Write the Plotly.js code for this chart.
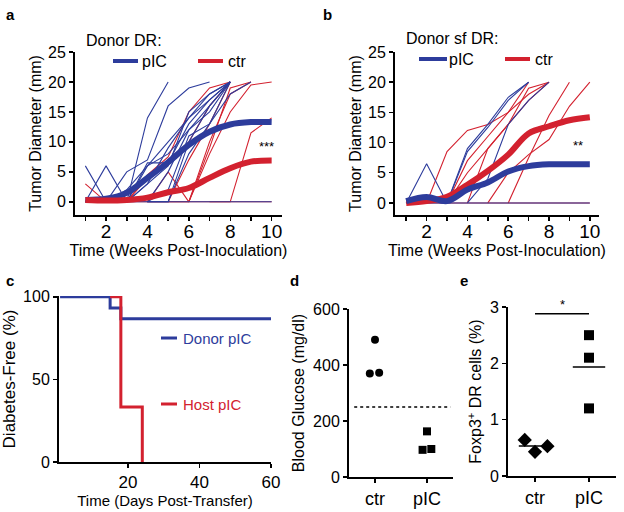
<!DOCTYPE html>
<html>
<head>
<meta charset="utf-8">
<script src="https://cdn.plot.ly/plotly-3.0.1.min.js"></script>
<style>
  html, body { margin: 0; padding: 0; background: #fff; }
  #chart { width: 624px; height: 512px; }
</style>
</head>
<body>
<div id="chart"></div>
<script>
const BLUE = '#2d3c9c', RED = '#d3212f';
const weeks = [1, 2, 3, 4, 5, 6, 7, 8, 9, 10];

// panel a - individual mice: first week measured, then diameters (mm)
const aBlueStart = [1, 1, 3, 2, 2, 3, 3, 4, 4, 4, 1, 4];
const aBlueVals = [
  [6, 0, 0, 3, 9, 14, 18, 20],
  [0, 6, 0, 6.5, 6.5, 13, 17, 20],
  [0, 14, 20],
  [0, 5, 7, 16, 19, 20],
  [0, 2, 6, 10, 14, 17, 20],
  [0, 6, 8, 12, 16, 20],
  [0, 3, 6, 15, 18, 20],
  [0, 0, 10, 16, 20],
  [0, 0, 8, 13, 20],
  [0, 2, 11, 13, 18, 20],
  [0, 0, 0, 0, 0, 0, 0, 0, 0, 0],
  [0, 5, 12, 15, 20]
];
const aRedStart = [1, 4, 4, 5, 6, 7, 1, 3];
const aRedVals = [
  [3, 0, 0, 4.5, 7.5, 15, 19, 20],
  [0, 5, 0, 9, 19, 20],
  [0, 0, 7, 13, 20],
  [0, 0, 8, 15, 19.5, 20],
  [0, 10, 18, 20],
  [0, 0, 11.5, 14],
  [0, 0, 0, 0, 0, 0, 0, 0, 0, 0],
  [0, 4, 7, 10, 16, 20]
];
const aBlueMean = [0.3, 0.5, 1.5, 4, 6.6, 9.5, 11.7, 12.9, 13.3, 13.3];
const aRedMean  = [0.3, 0.2, 0.3, 0.7, 1.6, 2.3, 4, 5.6, 6.7, 6.9];

// panel b
const bBlueStart = [1, 3, 4, 1];
const bBlueVals = [
  [0, 6.5, 0, 9, 13, 17.5, 20],
  [0, 8.5, 12.5, 17, 20],
  [0, 4, 13, 17, 20],
  [0, 0, 0, 0, 0, 0, 0, 0, 0, 0]
];
const bRedStart = [2, 3, 3, 4, 6, 5, 1];
const bRedVals = [
  [0, 8.5, 12, 13, 15, 18, 20],
  [0, 7, 11, 15, 20],
  [0, 5, 9, 13, 17, 20],
  [0, 9, 13, 19, 20],
  [0, 7.5, 14.5, 20],
  [0, 5, 8, 10.5, 16, 20],
  [0, 0, 0, 0, 0, 0, 0, 0, 0, 0]
];
const bBlueMean = [0.3, 1, 0.3, 2.2, 3.4, 5.2, 6.1, 6.4, 6.4, 6.4];
const bRedMean  = [0, 0.3, 1, 3, 5.3, 8, 11.5, 12.7, 13.7, 14.2];

// panel c - survival steps
const cDonorDays = [1, 15, 18, 60];
const cDonorPct  = [100, 93.3, 86.7, 86.7];
const cHostDays  = [15, 18, 24];
const cHostPct   = [100, 33.3, 0];

// panel d - blood glucose (x = group index + jitter)
const dCtrX = [0, -0.1, 0.08],     dCtrY = [490, 370, 372];
const dPicX = [1, 0.915, 1.083],   dPicY = [163, 97, 100];
const dThreshold = 250;

// panel e - Foxp3+ DR cells
const eCtrX = [-0.19, 0, 0.23], eCtrY = [0.64, 0.43, 0.53];
const ePicX = [1, 1, 1],        ePicY = [2.5, 2.1, 1.2];
const eSigY = 2.88;

const catLabels = ['ctr', 'pIC'];

function mouseTraces(starts, vals, color, xa, ya) {
  return vals.map((v, i) => ({
    x: v.map((_, j) => starts[i] + j), y: v,
    type: 'scatter', mode: 'lines', xaxis: xa, yaxis: ya,
    line: { color: color, width: 1.1 }, hoverinfo: 'skip'
  }));
}
function meanTrace(y, color, xa, ya) {
  return { x: weeks, y: y, type: 'scatter', mode: 'lines', xaxis: xa, yaxis: ya,
    line: { color: color, width: 6, shape: 'spline' } };
}
const mean = arr => arr.reduce((s, v) => s + v, 0) / arr.length;

const traces = [].concat(
  mouseTraces(aRedStart, aRedVals, RED, 'x', 'y'),
  mouseTraces(aBlueStart, aBlueVals, BLUE, 'x', 'y'),
  [meanTrace(aBlueMean, BLUE, 'x', 'y'), meanTrace(aRedMean, RED, 'x', 'y')],
  mouseTraces(bRedStart, bRedVals, RED, 'x2', 'y2'),
  mouseTraces(bBlueStart, bBlueVals, BLUE, 'x2', 'y2'),
  [meanTrace(bRedMean, RED, 'x2', 'y2'), meanTrace(bBlueMean, BLUE, 'x2', 'y2')],
  [
    { x: cDonorDays, y: cDonorPct, type: 'scatter', mode: 'lines', xaxis: 'x3', yaxis: 'y3',
      line: { color: BLUE, width: 3, shape: 'hv' } },
    { x: cHostDays, y: cHostPct, type: 'scatter', mode: 'lines', xaxis: 'x3', yaxis: 'y3',
      line: { color: RED, width: 3, shape: 'hv' } },
    { x: [-0.4, 1.45], y: [dThreshold, dThreshold], type: 'scatter', mode: 'lines', xaxis: 'x4', yaxis: 'y4',
      line: { color: '#000', width: 1.5, dash: 'dot' } },
    { x: dCtrX, y: dCtrY, type: 'scatter', mode: 'markers', xaxis: 'x4', yaxis: 'y4',
      marker: { symbol: 'circle', size: 8, color: '#000' } },
    { x: dPicX, y: dPicY, type: 'scatter', mode: 'markers', xaxis: 'x4', yaxis: 'y4',
      marker: { symbol: 'square', size: 8, color: '#000' } },
    { x: eCtrX, y: eCtrY, type: 'scatter', mode: 'markers', xaxis: 'x5', yaxis: 'y5',
      marker: { symbol: 'diamond', size: 11, color: '#000' } },
    { x: ePicX, y: ePicY, type: 'scatter', mode: 'markers', xaxis: 'x5', yaxis: 'y5',
      marker: { symbol: 'square', size: 10, color: '#000' } },
    { x: [-0.3, 0.3], y: [mean(eCtrY), mean(eCtrY)], type: 'scatter', mode: 'lines', xaxis: 'x5', yaxis: 'y5',
      line: { color: '#000', width: 1.5 } },
    { x: [0.7, 1.3], y: [mean(ePicY), mean(ePicY)], type: 'scatter', mode: 'lines', xaxis: 'x5', yaxis: 'y5',
      line: { color: '#000', width: 1.5 } },
    { x: [0, 1], y: [eSigY, eSigY], type: 'scatter', mode: 'lines', xaxis: 'x5', yaxis: 'y5',
      line: { color: '#000', width: 1.5 } }
  ]
);

const FONT = 'Liberation Sans, Arial, Helvetica, sans-serif';
function ax(extra) {
  return Object.assign({
    showline: true, linecolor: '#000', linewidth: 2, mirror: false,
    ticks: 'outside', ticklen: 4, tickwidth: 1.5, tickcolor: '#000',
    showgrid: false, zeroline: false, automargin: false,
    tickfont: { size: 16, color: '#000' }
  }, extra);
}
const weekAxis = {
  tickmode: 'linear', tick0: 2, dtick: 2, tickfont: { size: 19 }, ticklabelstandoff: -6,
  minor: { tick0: 1, dtick: 1, ticks: 'outside', ticklen: 4, tickwidth: 1.5, tickcolor: '#000', showgrid: false },
  title: { text: 'Time (Weeks Post-Inoculation)', font: { size: 16 }, standoff: 0 }
};
const P = (px) => px / 624, Q = (py) => 1 - py / 512;

const layout = {
  width: 624, height: 512,
  margin: { l: 0, r: 0, t: 0, b: 0 },
  paper_bgcolor: '#fff', plot_bgcolor: '#fff',
  showlegend: false,
  font: { family: FONT, color: '#000', size: 16 },
  xaxis: ax(Object.assign({ domain: [P(75), P(282)], anchor: 'y', range: [0.5, 10.5] }, weekAxis)),
  yaxis: ax({ domain: [Q(215), Q(52)], anchor: 'x', range: [-2.2, 25], tickvals: [0, 5, 10, 15, 20, 25],
    title: { text: 'Tumor Diameter (mm)', font: { size: 16 }, standoff: 2 } }),
  xaxis2: ax(Object.assign({ domain: [P(395), P(599)], anchor: 'y2', range: [0.45, 10.45] }, weekAxis)),
  yaxis2: ax({ domain: [Q(215), Q(52)], anchor: 'x2', range: [-2, 25], tickvals: [0, 5, 10, 15, 20, 25],
    title: { text: 'Tumor Diameter (mm)', font: { size: 16 }, standoff: 2 } }),
  xaxis3: ax({ domain: [P(59), P(271)], anchor: 'y3', range: [0.7, 60], tickvals: [20, 40, 60],
    tickfont: { size: 17 },
    title: { text: 'Time (Days Post-Transfer)', font: { size: 15 }, standoff: 1 } }),
  yaxis3: ax({ domain: [Q(462), Q(296)], anchor: 'x3', range: [0, 100.5], tickvals: [0, 50, 100],
    title: { text: 'Diabetes-Free (%)', font: { size: 17 }, standoff: 4 } }),
  xaxis4: ax({ domain: [P(349), P(453)], anchor: 'y4', range: [-0.5, 1.5], tickvals: [0, 1],
    ticktext: catLabels, tickfont: { size: 18 } }),
  yaxis4: ax({ domain: [Q(477), Q(309)], anchor: 'x4', range: [0, 600], tickvals: [0, 200, 400, 600],
    title: { text: 'Blood Glucose (mg/dl)', font: { size: 16 }, standoff: 4 } }),
  xaxis5: ax({ domain: [P(508), P(616)], anchor: 'y5', range: [-0.5, 1.5], tickvals: [0, 1],
    ticktext: catLabels, tickfont: { size: 18 } }),
  yaxis5: ax({ domain: [Q(476), Q(307)], anchor: 'x5', range: [0, 3], tickvals: [0, 1, 2, 3],
    title: { text: 'Foxp3<sup>+</sup> DR cells (%)', font: { size: 16 }, standoff: 4 } }),
  shapes: [
    { type: 'line', xref: 'paper', yref: 'paper', x0: P(113), x1: P(138), y0: Q(61), y1: Q(61), line: { color: BLUE, width: 4 } },
    { type: 'line', xref: 'paper', yref: 'paper', x0: P(198), x1: P(223), y0: Q(61), y1: Q(61), line: { color: RED, width: 4 } },
    { type: 'line', xref: 'paper', yref: 'paper', x0: P(419), x1: P(447), y0: Q(59), y1: Q(59), line: { color: BLUE, width: 4 } },
    { type: 'line', xref: 'paper', yref: 'paper', x0: P(505), x1: P(530), y0: Q(59), y1: Q(59), line: { color: RED, width: 4 } },
    { type: 'line', xref: 'paper', yref: 'paper', x0: P(161), x1: P(177), y0: Q(338), y1: Q(338), line: { color: BLUE, width: 3 } },
    { type: 'line', xref: 'paper', yref: 'paper', x0: P(161), x1: P(177), y0: Q(404), y1: Q(404), line: { color: RED, width: 3 } }
  ],
  annotations: [
    { text: '<b>a</b>', x: P(10), y: Q(14) },
    { text: '<b>b</b>', x: P(327), y: Q(14) },
    { text: '<b>c</b>', x: P(10), y: Q(280) },
    { text: '<b>d</b>', x: P(294), y: Q(280) },
    { text: '<b>e</b>', x: P(464), y: Q(280) },
    { text: 'Donor DR:', x: P(84), y: Q(40), xanchor: 'left', font: { size: 16 } },
    { text: 'pIC', x: P(140), y: Q(61), xanchor: 'left', font: { size: 16 } },
    { text: 'ctr', x: P(226), y: Q(61), xanchor: 'left', font: { size: 16 } },
    { text: 'Donor sf DR:', x: P(404), y: Q(38), xanchor: 'left', font: { size: 16 } },
    { text: 'pIC', x: P(447), y: Q(59), xanchor: 'left', font: { size: 16 } },
    { text: 'ctr', x: P(533), y: Q(59), xanchor: 'left', font: { size: 16 } },
    { text: '***', x: P(266), y: Q(146), font: { size: 13 } },
    { text: '**', x: P(578), y: Q(145), font: { size: 13 } },
    { text: 'Donor pIC', x: P(181), y: Q(338), xanchor: 'left', font: { size: 15, color: BLUE } },
    { text: 'Host pIC', x: P(181), y: Q(404), xanchor: 'left', font: { size: 15, color: RED } },
    { text: '*', xref: 'x5', yref: 'y5', x: 0.5, y: eSigY, yanchor: 'bottom', font: { size: 13 } }
  ].map(a => Object.assign({ xref: 'paper', yref: 'paper', showarrow: false,
    xanchor: 'center', yanchor: 'middle', font: { size: 15 } }, a))
};

Plotly.newPlot('chart', traces, layout, { staticPlot: true });
</script>
</body>
</html>
